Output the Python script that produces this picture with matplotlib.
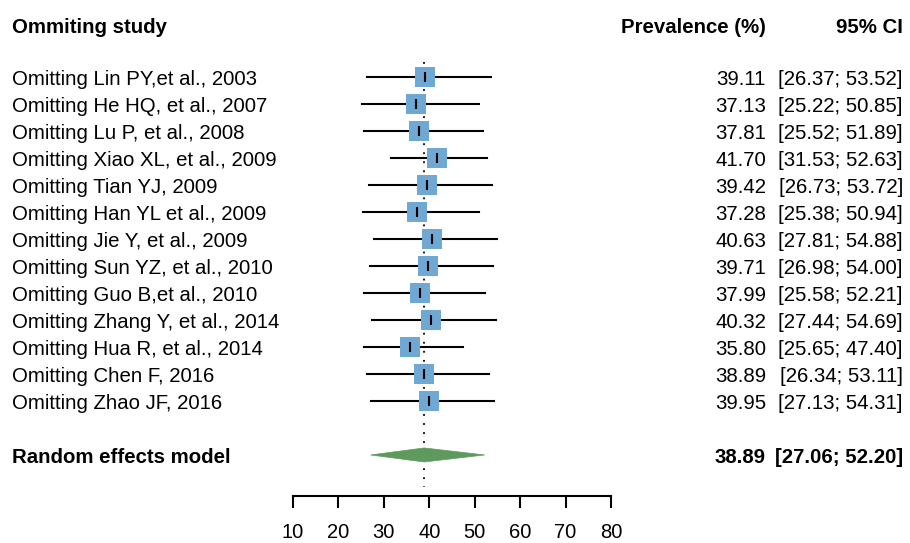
import matplotlib
matplotlib.use("Agg")
import matplotlib.pyplot as plt
from matplotlib.patches import Polygon
from matplotlib.transforms import blended_transform_factory

plt.rcParams['font.family'] = ['Liberation Sans', 'DejaVu Sans']

# data
studies = ["Omitting Lin PY,et al., 2003", "Omitting He HQ, et al., 2007",
           "Omitting Lu P, et al., 2008", "Omitting Xiao XL, et al., 2009",
           "Omitting Tian YJ, 2009", "Omitting Han YL et al., 2009",
           "Omitting Jie Y, et al., 2009", "Omitting Sun YZ, et al., 2010",
           "Omitting Guo B,et al., 2010", "Omitting Zhang Y, et al., 2014",
           "Omitting Hua R, et al., 2014", "Omitting Chen F, 2016",
           "Omitting Zhao JF, 2016"]
est = [39.11, 37.13, 37.81, 41.70, 39.42, 37.28, 40.63, 39.71, 37.99, 40.32, 35.80, 38.89, 39.95]
lower = [26.37, 25.22, 25.52, 31.53, 26.73, 25.38, 27.81, 26.98, 25.58, 27.44, 25.65, 26.34, 27.13]
upper = [53.52, 50.85, 51.89, 52.63, 53.72, 50.94, 54.88, 54.00, 52.21, 54.69, 47.40, 53.11, 54.31]
pooled = 38.89
pooled_lo = 27.06
pooled_hi = 52.20
xticks = [10, 20, 30, 40, 50, 60, 70, 80]

fig = plt.figure(figsize=(9.1, 5.43), dpi=100)
ax = fig.add_axes([293 / 910, 1 - 496 / 543, 318 / 910, 496 / 543])
ax.set_xlim(10, 80)
ax.set_ylim(15.52, -2.85)

rows = list(range(len(studies)))
pooled_row = 14
header_row = -1.93
dy = 0.08  # small nudge so text sits like the original

ax.plot([pooled, pooled], [-0.56, 15.2], color='black', linestyle=(0, (1, 4)), linewidth=1.3, zorder=1)

for i, (e, lo, hi) in enumerate(zip(est, lower, upper)):
    ax.plot([lo, hi], [i, i], color='black', linewidth=1.5, zorder=2)
ax.scatter(est, rows, marker='s', s=225, color='#6FA8D2', zorder=3, linewidths=0)
ax.scatter(est, rows, marker='|', s=45, color='black', linewidths=1.5, zorder=4)

h = 0.26
diamond = Polygon([(pooled_lo, pooled_row), (pooled, pooled_row - h),
                   (pooled_hi, pooled_row), (pooled, pooled_row + h)],
                  closed=True, facecolor='#5E9A5E', edgecolor='#5E9A5E', linewidth=0.5, zorder=3)
ax.add_patch(diamond)

for s in ['top', 'right', 'left']:
    ax.spines[s].set_visible(False)
ax.spines['bottom'].set_linewidth(1.5)
ax.set_yticks([])
ax.set_xticks(xticks)
ax.tick_params(axis='x', direction='out', length=8.5, width=1.5, pad=11, labelsize=14.5)

tr = blended_transform_factory(fig.transFigure, ax.transData)
fs = 14.7
xl, xv, xc = 12 / 910, 766 / 910, 903 / 910
hy = header_row + dy
ax.text(xl, hy, "Ommiting study", transform=tr, fontsize=fs, fontweight='bold', va='center', ha='left', clip_on=False)
ax.text(xv, hy, "Prevalence (%)", transform=tr, fontsize=fs, fontweight='bold', va='center', ha='right', clip_on=False)
ax.text(xc, hy, "95% CI", transform=tr, fontsize=fs, fontweight='bold', va='center', ha='right', clip_on=False)

for i, name in enumerate(studies):
    ax.text(xl, i + dy, name, transform=tr, fontsize=fs, va='center', ha='left', clip_on=False)
    ax.text(xv, i + dy, "%.2f" % est[i], transform=tr, fontsize=fs, va='center', ha='right', clip_on=False)
    ax.text(xc, i + dy, "[%.2f; %.2f]" % (lower[i], upper[i]), transform=tr, fontsize=fs, va='center', ha='right', clip_on=False)

py = pooled_row + dy
ax.text(xl, py, "Random effects model", transform=tr, fontsize=fs, fontweight='bold', va='center', ha='left', clip_on=False)
ax.text(xv, py, "%.2f" % pooled, transform=tr, fontsize=fs, fontweight='bold', va='center', ha='right', clip_on=False)
ax.text(xc, py, "[%.2f; %.2f]" % (pooled_lo, pooled_hi), transform=tr, fontsize=fs, fontweight='bold', va='center', ha='right', clip_on=False)

fig.savefig("out.png", dpi=100)
